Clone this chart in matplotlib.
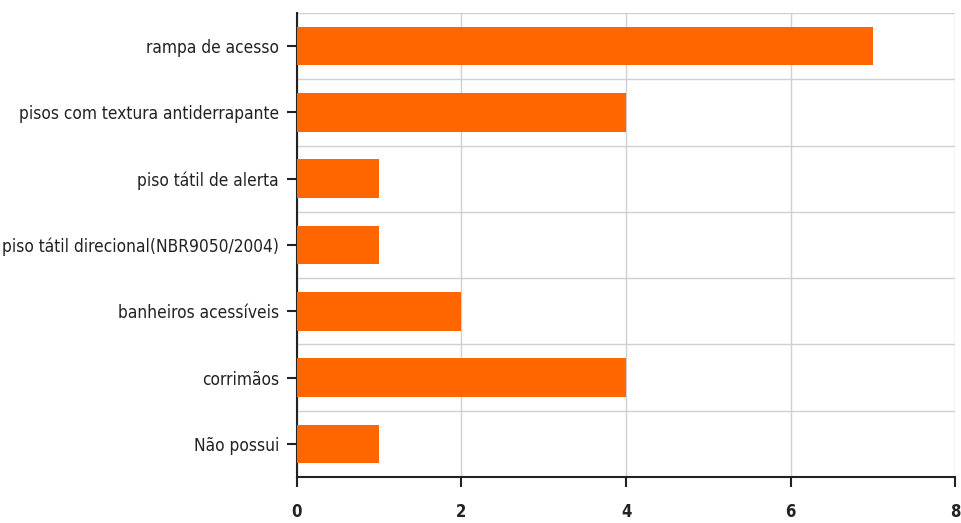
import matplotlib.pyplot as plt
import numpy as np

# categorias e contagens
categorias = ['rampa de acesso', 'pisos com textura antiderrapante', 'piso tátil de alerta',
              'piso tátil direcional(NBR9050/2004)', 'banheiros acessíveis', 'corrimãos', 'Não possui']
valores = [7, 4, 1, 1, 2, 4, 1]
xticks = [0, 2, 4, 6, 8]

plt.rcParams['font.family'] = ['DejaVu Sans']

fig = plt.figure(figsize=(9.62, 5.23), dpi=100)
ax = fig.add_axes([297 / 962, 1 - 477 / 523, 658 / 962, 464 / 523])

y = np.arange(len(categorias))
ax.barh(y, valores, height=0.58, color='#ff6600', zorder=3)

ax.set_ylim(len(categorias) - 0.5, -0.5)
ax.set_xlim(0, 8)
ax.set_yticks(y)
ax.set_yticklabels(categorias, fontsize=12.4, fontstretch='condensed', color='#222222')
ax.set_xticks(xticks)
ax.set_xticklabels([str(t) for t in xticks], fontsize=12, fontweight='bold',
                   fontstretch='condensed', color='#222222')

# linhas de grade entre categorias
ax.set_yticks(np.arange(len(categorias) + 1) - 0.5, minor=True)
ax.grid(axis='y', which='minor', color='#d0d0d0', linewidth=1, zorder=0)
ax.grid(axis='x', which='major', color='#d0d0d0', linewidth=1, zorder=0)
ax.tick_params(axis='y', which='minor', length=0)
ax.tick_params(axis='both', which='major', length=7, width=1.5, color='#222222')
ax.tick_params(axis='y', pad=6)
ax.tick_params(axis='x', pad=12)

for s in ['top', 'right']:
    ax.spines[s].set_visible(False)
for s in ['left', 'bottom']:
    ax.spines[s].set_linewidth(1.5)
    ax.spines[s].set_color('#222222')

fig.savefig('out.png', dpi=100)
